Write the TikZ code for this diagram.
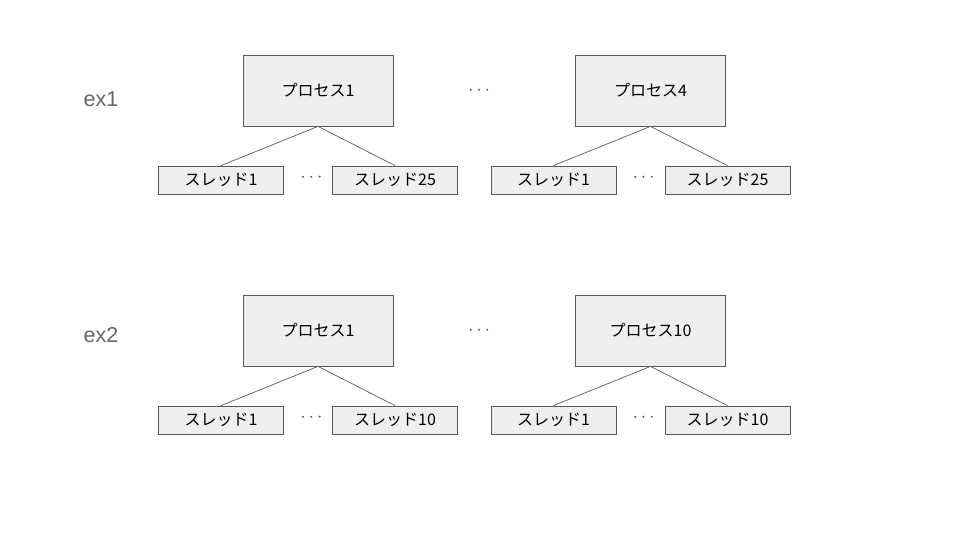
\documentclass[tikz,border=0pt]{standalone}
\usepackage{fontspec}
\setmainfont{Noto Sans CJK JP}
\newfontfamily\labelfont{Liberation Sans}
\definecolor{boxfill}{HTML}{EFEFEF}
\definecolor{edge}{HTML}{595959}
\definecolor{exgray}{HTML}{666666}
\begin{document}
\begin{tikzpicture}[x=1pt,y=-1pt,
  procbox/.style={draw=edge,fill=boxfill,line width=0.8pt,minimum width=150pt,minimum height=71pt,inner sep=0pt,font=\fontsize{16}{18}\selectfont},
  thrbox/.style={draw=edge,fill=boxfill,line width=0.8pt,minimum width=125pt,minimum height=28pt,inner sep=0pt,font=\fontsize{16}{18}\selectfont},
  link/.style={draw=edge,line width=0.7pt},
  exlabel/.style={text=exgray,font=\labelfont\fontsize{21.5}{25}\selectfont,inner sep=0pt},
  ellip/.pic={\fill[edge] (-8.3,0) circle (1.1) (0,0) circle (1.1) (8.3,0) circle (1.1);}]
\useasboundingbox (0,0) rectangle (960,540);
% first example: 4 processes with 25 threads each
\node[exlabel] (ex1) at (101,99) {ex1};
\node[procbox] (p1) at (318,90.5) {プロセス1};
\node[procbox] (p4) at (650.5,90.5) {プロセス4};
\coordinate (d1) at (479,89.7);
\pic at (d1) {ellip};
\node[thrbox] (t11) at (221,180) {スレッド1};
\node[thrbox] (t125) at (395,180) {スレッド25};
\coordinate (d11) at (311.3,176.7);
\pic at (d11) {ellip};
\node[thrbox] (t41) at (553.5,180) {スレッド1};
\node[thrbox] (t425) at (727.5,180) {スレッド25};
\coordinate (d41) at (643.5,176.7);
\pic at (d41) {ellip};
\draw[link] (p1.south) -- (t11.north);
\draw[link] (p1.south) -- (t125.north);
\draw[link] (p4.south) -- (t41.north);
\draw[link] (p4.south) -- (t425.north);
% second example: 10 processes with 10 threads each
\node[exlabel] (ex2) at (101,335) {ex2};
\node[procbox] (q1) at (318,330.5) {プロセス1};
\node[procbox] (q10) at (650.5,330.5) {プロセス10};
\coordinate (d2) at (479,329.7);
\pic at (d2) {ellip};
\node[thrbox] (u11) at (221,420) {スレッド1};
\node[thrbox] (u110) at (395,420) {スレッド10};
\coordinate (d21) at (311.3,416.7);
\pic at (d21) {ellip};
\node[thrbox] (u101) at (553.5,420) {スレッド1};
\node[thrbox] (u1010) at (727.5,420) {スレッド10};
\coordinate (d22) at (643.5,416.7);
\pic at (d22) {ellip};
\draw[link] (q1.south) -- (u11.north);
\draw[link] (q1.south) -- (u110.north);
\draw[link] (q10.south) -- (u101.north);
\draw[link] (q10.south) -- (u1010.north);
\end{tikzpicture}
\end{document}
